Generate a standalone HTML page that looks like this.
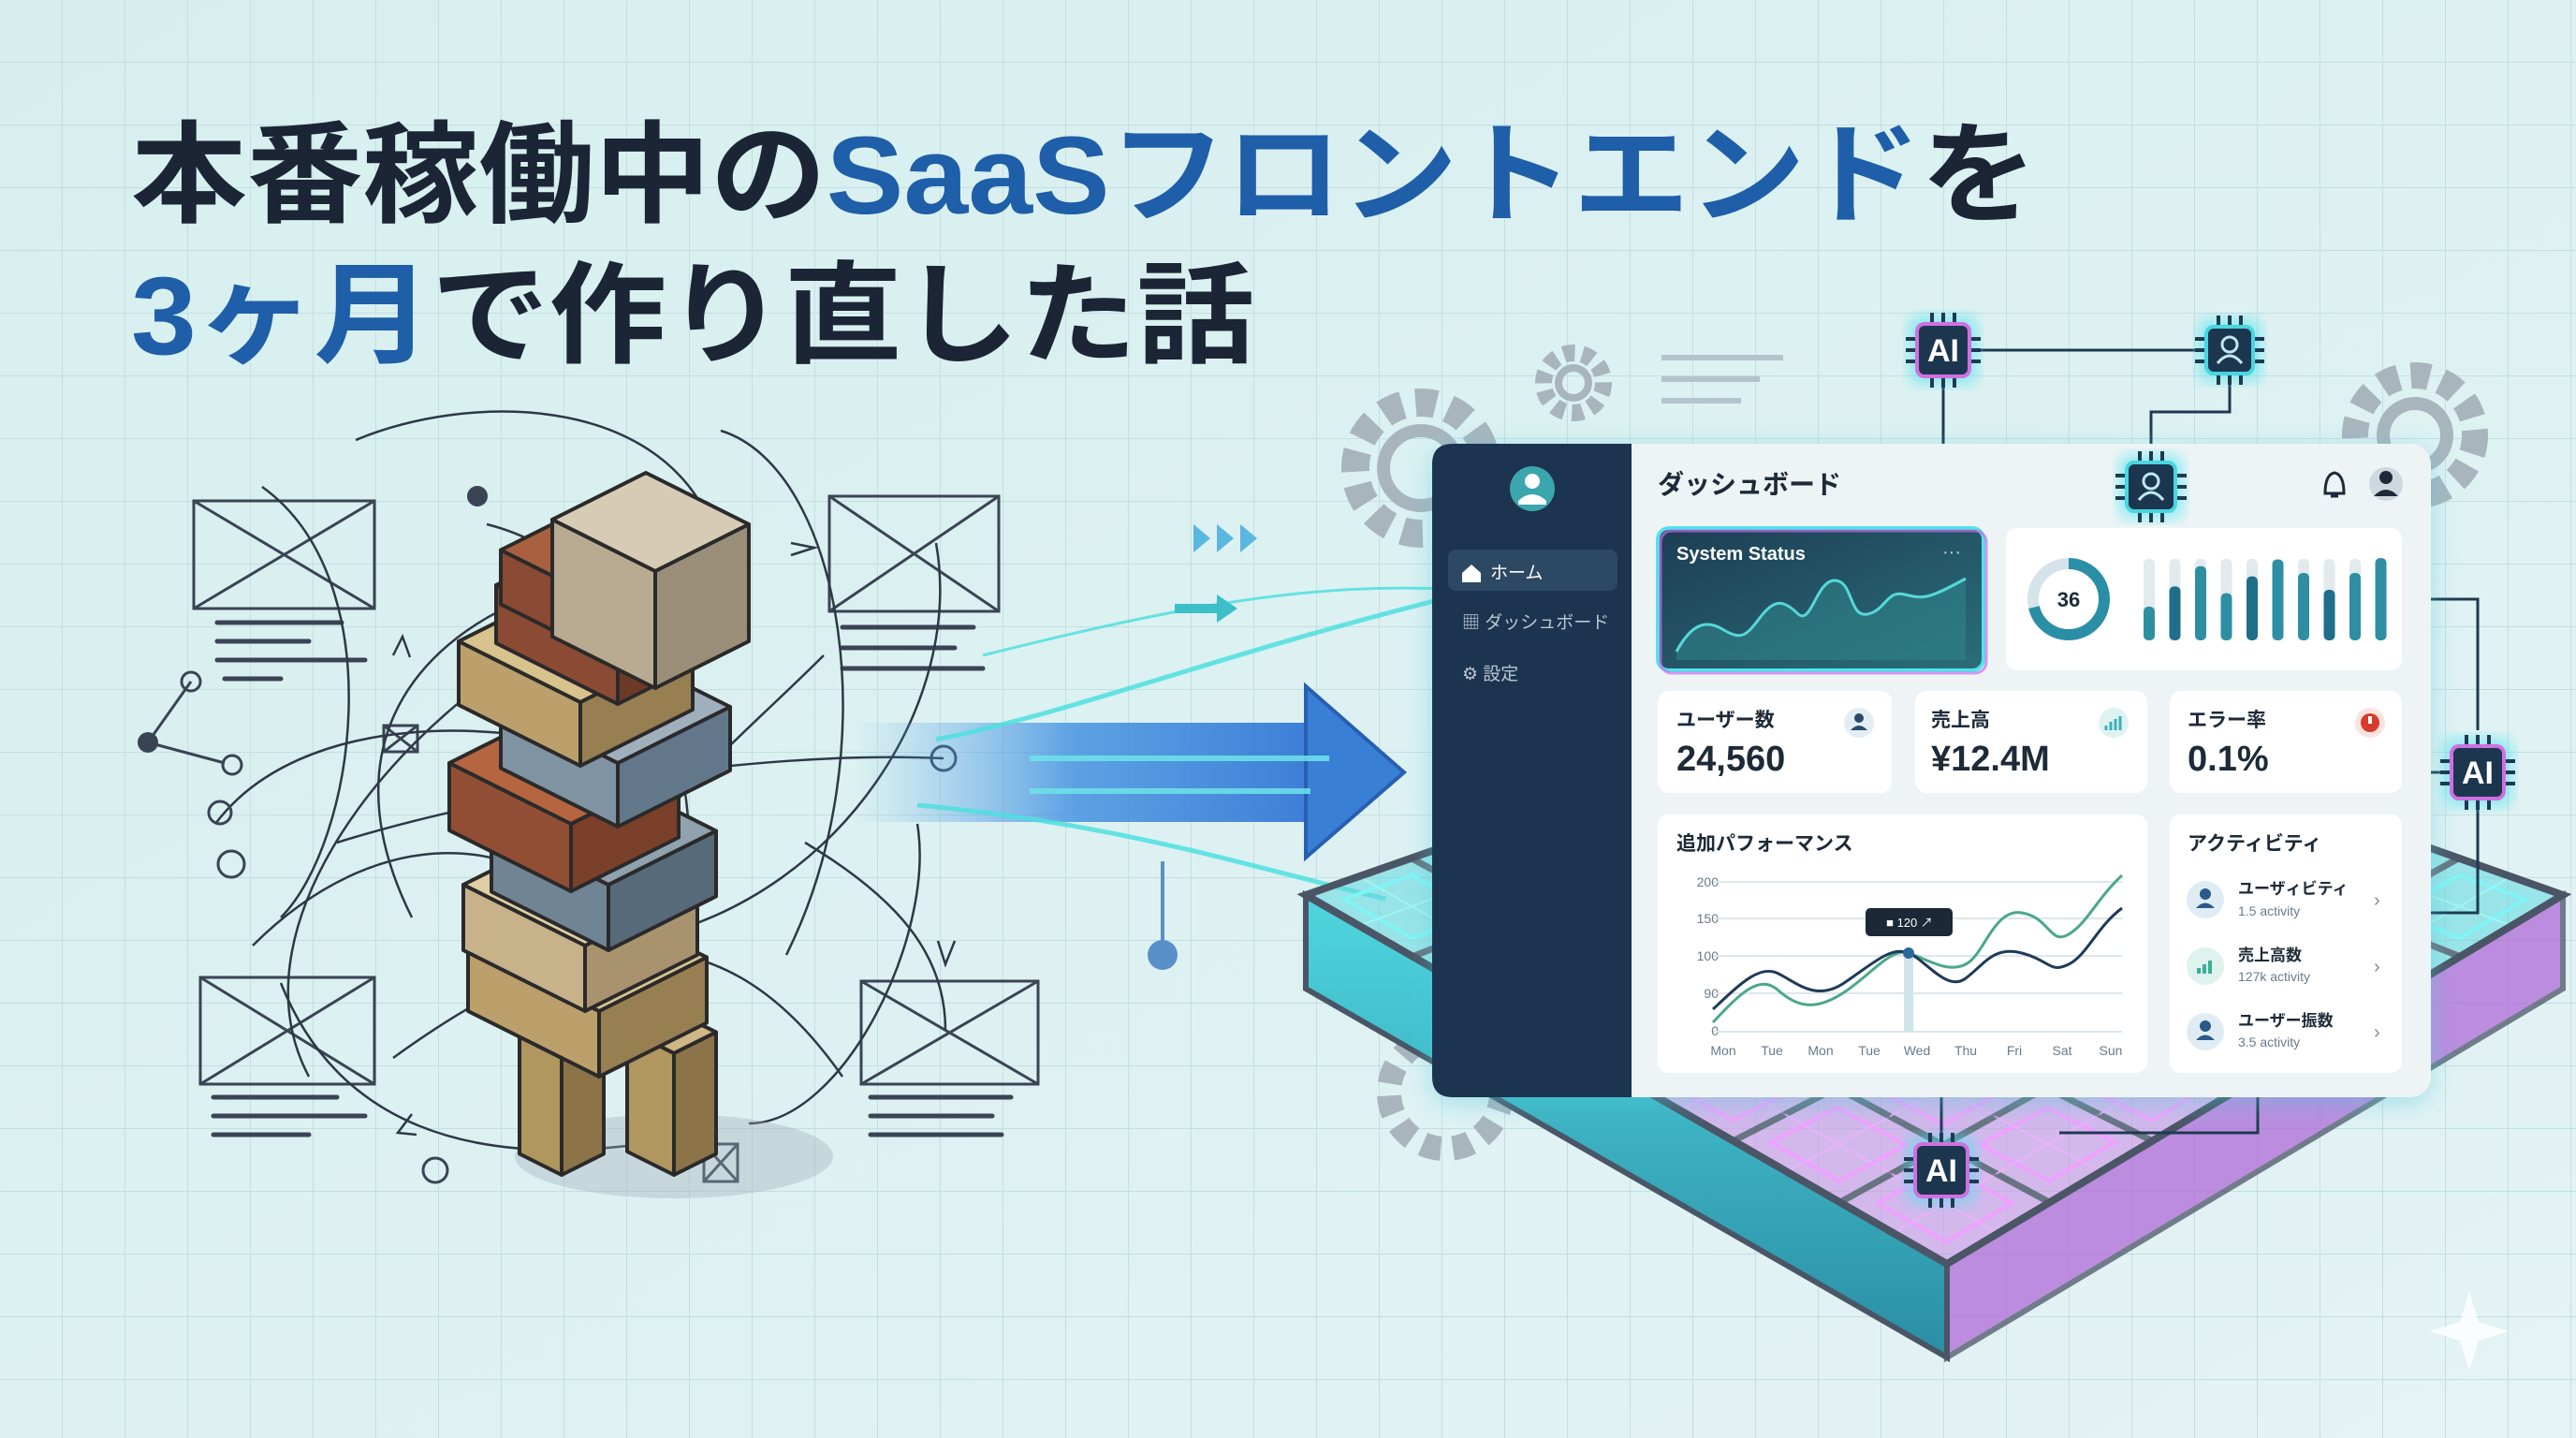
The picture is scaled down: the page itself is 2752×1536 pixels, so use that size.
<!DOCTYPE html>
<html><head><meta charset="utf-8"><style>
html,body{margin:0;padding:0;width:2752px;height:1536px;overflow:hidden;background:#def3f2}
svg{display:block}
text{font-family:"Liberation Sans","Noto Sans CJK JP",sans-serif}
</style></head><body>
<svg id="s" width="2752" height="1536" viewBox="0 0 2752 1536" xmlns="http://www.w3.org/2000/svg">
<defs>
<pattern id="grid" width="67" height="67" patternUnits="userSpaceOnUse"><path d="M67 0V67M0 67H67" stroke="#c3dfe0" stroke-width="2" fill="none"/></pattern>
<linearGradient id="bg" x1="0" y1="0" x2="1" y2="1"><stop offset="0" stop-color="#d6efee"/><stop offset="1" stop-color="#e4f3f5"/></linearGradient>
<linearGradient id="arrow" x1="0" x2="1"><stop offset="0" stop-color="#5aa8e8" stop-opacity="0"/><stop offset="0.4" stop-color="#3d8de0" stop-opacity="0.8"/><stop offset="1" stop-color="#2f6fd0"/></linearGradient>
<linearGradient id="sys" x1="0" y1="0" x2="1" y2="1"><stop offset="0" stop-color="#1d3d55"/><stop offset="1" stop-color="#2a6e78"/></linearGradient>
<linearGradient id="side" x1="0" y1="0" x2="0" y2="1"><stop offset="0" stop-color="#4fd6df"/><stop offset="1" stop-color="#2a8ea5"/></linearGradient>
<filter id="glow"><feGaussianBlur stdDeviation="8"/></filter>
<filter id="sh"><feDropShadow dx="0" dy="6" stdDeviation="14" flood-color="#4ac8d8" flood-opacity="0.45"/></filter>
</defs>
<rect width="2752" height="1536" fill="url(#bg)"/>
<rect width="2752" height="1536" fill="url(#grid)"/>

<text x="140" y="228" font-size="118" font-weight="bold" fill="#1b2535" textLength="2036" lengthAdjust="spacingAndGlyphs">本番稼働中の<tspan fill="#1f5ea8">SaaSフロントエンド</tspan>を</text>
<text x="140" y="378" font-size="118" font-weight="bold" fill="#1b2535" textLength="1200" lengthAdjust="spacingAndGlyphs"><tspan fill="#1f5ea8">3ヶ月</tspan>で作り直した話</text>

<g fill="none" stroke="#a9b5bd" stroke-width="14">
<circle cx="1518" cy="500" r="70" stroke-dasharray="22 14" stroke-width="30"/><circle cx="1518" cy="500" r="40"/>
<circle cx="1681" cy="409" r="32" stroke-dasharray="12 8" stroke-width="18"/><circle cx="1681" cy="409" r="16" stroke-width="8"/>
<circle cx="2580" cy="465" r="64" stroke-dasharray="20 13" stroke-width="28"/><circle cx="2580" cy="465" r="34"/>
<circle cx="1544" cy="1167" r="60" stroke-dasharray="20 13" stroke-width="26"/>
</g>
<g stroke="#b4c4cc" stroke-width="6"><line x1="1775" y1="382" x2="1905" y2="382"/><line x1="1775" y1="405" x2="1880" y2="405"/><line x1="1775" y1="428" x2="1860" y2="428"/></g>

<g fill="none" stroke="#3a4454" stroke-width="3">
<rect x="207" y="535" width="193" height="115"/><path d="M207 535L400 650M400 535L207 650"/>
<rect x="886" y="530" width="181" height="123"/><path d="M886 530L1067 653M1067 530L886 653"/>
<rect x="214" y="1044" width="186" height="114"/><path d="M214 1044L400 1158M400 1044L214 1158"/>
<rect x="920" y="1048" width="189" height="110"/><path d="M920 1048L1109 1158M1109 1048L920 1158"/>
<rect x="410" y="775" width="36" height="28"/><path d="M410 775L446 803M446 775L410 803"/>
<rect x="752" y="1222" width="36" height="40"/><path d="M752 1222L788 1262M788 1222L752 1262"/>
</g>
<g stroke="#3a4454" stroke-width="5" stroke-linecap="round">
<path d="M232 665H365M232 685H330M232 705H390M240 725H300"/>
<path d="M900 670H1040M900 692H1020M900 714H1050"/>
<path d="M228 1172H360M228 1192H390M228 1212H330"/>
<path d="M930 1172H1080M930 1192H1060M930 1212H1070"/>
</g>

<g id="scr" fill="none" stroke="#2e3846" stroke-width="2.5"></g>
<g fill="#3a4454"><circle cx="510" cy="530" r="11"/><circle cx="158" cy="793" r="11"/></g>
<g fill="none" stroke="#3a4454" stroke-width="3"><circle cx="204" cy="728" r="10"/><circle cx="248" cy="817" r="10"/><circle cx="235" cy="868" r="12"/><circle cx="247" cy="923" r="14"/><circle cx="1008" cy="810" r="13"/><circle cx="465" cy="1250" r="13"/>
<path d="M158 793L204 728M158 793L240 815"/></g>

<path d="M913 772H1395V733L1500 825L1395 916V878H913Z" fill="url(#arrow)"/>
<path d="M1395 733L1500 825L1395 916Z" fill="#3a7fd6" stroke="#285fb0" stroke-width="4"/>
<g stroke="#4fe0e0" stroke-width="5" fill="none" opacity="0.85">
<path d="M1000 790C1150 760 1300 700 1540 640"/><path d="M980 860C1200 880 1350 930 1480 960"/><path d="M1050 700C1250 650 1400 620 1560 630" stroke-width="3"/>
<path d="M1100 810H1420M1100 845H1400" stroke="#6fe3ea" stroke-width="6"/>
</g>
<g fill="#5ab7e0"><path d="M1275 560l18 15-18 15zM1300 560l18 15-18 15zM1325 560l18 15-18 15z"/><path d="M1300 635l22 15-22 15z" fill="#3bbfc8"/><rect x="1255" y="645" width="45" height="10" fill="#3bbfc8"/></g>
<path d="M1242 920V1010" stroke="#5a90c8" stroke-width="4"/><circle cx="1242" cy="1020" r="16" fill="#5a90c8"/>

<g id="tower"></g>
<g id="floor"></g>

<g stroke="#1e3a52" stroke-width="3" fill="none">
<path d="M2076 374H2382"/><path d="M2076 374V528"/><path d="M2382 374V440H2298V490"/><path d="M2298 553V590"/>
<path d="M2542 640H2647V780"/><path d="M2647 825V975H2565"/><path d="M2562 825H2647"/>
<path d="M2074 1160V1210"/><path d="M2412 1150V1210H2200"/>
</g>
<g fill="#4fd6df" stroke="#1e3a52" stroke-width="3"><circle cx="2076" cy="528" r="8"/><circle cx="2298" cy="590" r="8"/><circle cx="2542" cy="640" r="8"/><circle cx="2565" cy="975" r="8"/><circle cx="2562" cy="825" r="8"/><circle cx="2074" cy="1160" r="8"/><circle cx="2412" cy="1150" r="8"/></g>

<g filter="url(#sh)">
<rect x="1530" y="474" width="1067" height="698" rx="22" fill="#eef4f6"/>
</g>
<path d="M1552 474H1743V1172H1552Q1530 1172 1530 1150V496Q1530 474 1552 474Z" fill="#1c3450"/>
<circle cx="1637" cy="522" r="24" fill="#3aa6ad"/><circle cx="1637" cy="514" r="8" fill="#fff"/><path d="M1622 535q15-14 30 0v4h-30z" fill="#fff"/>
<rect x="1547" y="587" width="181" height="44" rx="8" fill="#2c4863"/>
<path d="M1562 612l10-9 10 9v10h-20z" fill="#fff"/>
<text x="1592" y="618" font-size="19" fill="#fff">ホーム</text>
<text x="1562" y="671" font-size="19" fill="#b9c6d2">▦ ダッシュボード</text>
<text x="1562" y="726" font-size="19" fill="#b9c6d2">⚙ 設定</text>
<text x="1771" y="527" font-size="28" font-weight="bold" fill="#1e2a38">ダッシュボード</text>
<path d="M2484 527q0-20 10-22q10 2 10 22zM2490 530h8" stroke="#1e2a38" stroke-width="3" fill="none"/>
<circle cx="2549" cy="517" r="18" fill="#cfd8de"/><circle cx="2549" cy="510" r="7" fill="#1e2a38"/><path d="M2536 530q13-14 26 0z" fill="#1e2a38"/>

<rect x="1771" y="564" width="348" height="152" rx="12" fill="url(#sys)" stroke="#53e3ea" stroke-width="4"/>
<rect x="1771" y="564" width="348" height="152" rx="12" fill="none" stroke="#c86ee8" stroke-width="3" opacity="0.7" transform="translate(3 3)"/>
<text x="1791" y="598" font-size="20" font-weight="bold" fill="#fff">System Status</text>
<text x="2075" y="596" font-size="20" fill="#c0d0d8">···</text>
<path d="M1791 696C1805 670 1820 660 1840 672S1865 680 1880 660S1905 640 1920 655S1940 620 1960 620S1975 660 1995 656S2015 630 2035 635S2060 640 2100 618V705H1791Z" fill="#2f8a8e" opacity="0.5"/>
<path d="M1791 696C1805 670 1820 660 1840 672S1865 680 1880 660S1905 640 1920 655S1940 620 1960 620S1975 660 1995 656S2015 630 2035 635S2060 640 2100 618" stroke="#56d8d8" stroke-width="3" fill="none"/>

<rect x="2143" y="564" width="423" height="152" rx="12" fill="#fff"/>
<circle cx="2210" cy="640" r="38" fill="none" stroke="#d5e3ea" stroke-width="12"/>
<circle cx="2210" cy="640" r="38" fill="none" stroke="#2a8fa6" stroke-width="12" stroke-dasharray="170 239" transform="rotate(-90 2210 640)"/>
<text x="2210" y="648" font-size="22" font-weight="bold" text-anchor="middle" fill="#1e2a38">36</text>
<g id="bars"></g>

<g font-weight="bold" fill="#1e2a38">
<rect x="1771" y="738" width="250" height="109" rx="12" fill="#fff"/>
<rect x="2046" y="738" width="248" height="109" rx="12" fill="#fff"/>
<rect x="2318" y="738" width="248" height="109" rx="12" fill="#fff"/>
<text x="1791" y="776" font-size="21">ユーザー数</text><text x="1791" y="823" font-size="38">24,560</text>
<text x="2063" y="776" font-size="21">売上高</text><text x="2063" y="823" font-size="38">¥12.4M</text>
<text x="2337" y="776" font-size="21">エラー率</text><text x="2337" y="823" font-size="38">0.1%</text>
</g>
<circle cx="1986" cy="772" r="16" fill="#e3eef2"/><circle cx="1986" cy="767" r="5" fill="#2a4a6a"/><path d="M1977 780q9-10 18 0z" fill="#2a4a6a"/>
<circle cx="2258" cy="772" r="16" fill="#dff2f2"/><path d="M2250 780v-5M2255 780v-9M2260 780v-12M2265 780v-15" stroke="#3bb0b8" stroke-width="3"/>
<circle cx="2532" cy="772" r="16" fill="#fde3df"/><circle cx="2532" cy="772" r="10" fill="#d83a2e"/><rect x="2530" y="765" width="4" height="8" fill="#fff"/>

<rect x="1771" y="870" width="523" height="276" rx="12" fill="#fff"/>
<text x="1791" y="908" font-size="21" font-weight="bold" fill="#1e2a38">追加パフォーマンス</text>
<g font-size="14" fill="#6a7a88">
<text x="1836" y="947" text-anchor="end">200</text><text x="1836" y="986" text-anchor="end">150</text><text x="1836" y="1026" text-anchor="end">100</text><text x="1836" y="1066" text-anchor="end">90</text><text x="1836" y="1106" text-anchor="end">0</text>
<text x="1841" y="1127" text-anchor="middle">Mon</text><text x="1893" y="1127" text-anchor="middle">Tue</text><text x="1945" y="1127" text-anchor="middle">Mon</text><text x="1997" y="1127" text-anchor="middle">Tue</text><text x="2048" y="1127" text-anchor="middle">Wed</text><text x="2100" y="1127" text-anchor="middle">Thu</text><text x="2152" y="1127" text-anchor="middle">Fri</text><text x="2203" y="1127" text-anchor="middle">Sat</text><text x="2255" y="1127" text-anchor="middle">Sun</text>
</g>
<g stroke="#dde6ea" stroke-width="2"><path d="M1830 942H2267M1830 981H2267M1830 1021H2267M1830 1061H2267M1830 1102H2267"/></g>
<rect x="2034" y="1018" width="10" height="84" fill="#cfe3ea"/>
<path d="M1830 1092C1860 1060 1880 1040 1900 1058S1940 1080 1970 1060S2020 1012 2039 1018S2080 1040 2100 1030S2130 970 2160 975S2190 1010 2210 998S2240 960 2267 935" stroke="#4aa88a" stroke-width="3" fill="none"/>
<path d="M1830 1078C1860 1050 1880 1030 1900 1040S1940 1070 1970 1050S2020 1010 2039 1018S2080 1060 2100 1045S2130 1010 2160 1018S2190 1040 2210 1030S2240 990 2267 970" stroke="#1f3a5a" stroke-width="3" fill="none"/>
<circle cx="2039" cy="1018" r="6" fill="#2a6a9a"/>
<rect x="1993" y="970" width="93" height="30" rx="5" fill="#1a2838"/><text x="2040" y="990" font-size="13" fill="#fff" text-anchor="middle">■ 120 ↗</text>

<rect x="2318" y="870" width="248" height="276" rx="12" fill="#fff"/>
<text x="2337" y="908" font-size="21" font-weight="bold" fill="#1e2a38">アクティビティ</text>
<g>
<circle cx="2356" cy="961" r="20" fill="#e0ecf3"/><circle cx="2356" cy="955" r="6" fill="#2a5a8a"/><path d="M2346 970q10-11 20 0z" fill="#2a5a8a"/>
<circle cx="2356" cy="1032" r="20" fill="#def2ee"/><path d="M2349 1040v-6M2355 1040v-10M2361 1040v-14" stroke="#3ab09a" stroke-width="4"/>
<circle cx="2356" cy="1102" r="20" fill="#e0ecf3"/><circle cx="2356" cy="1096" r="6" fill="#2a5a8a"/><path d="M2346 1111q10-11 20 0z" fill="#2a5a8a"/>
<g font-size="17" font-weight="bold" fill="#1e2a38"><text x="2391" y="955">ユーザィビティ</text><text x="2391" y="1026">売上高数</text><text x="2391" y="1096">ユーザー振数</text></g>
<g font-size="14" fill="#6a7a88"><text x="2391" y="978">1.5 activity</text><text x="2391" y="1048">127k activity</text><text x="2391" y="1118">3.5 activity</text></g>
<g font-size="20" fill="#7a8a98"><text x="2536" y="968">›</text><text x="2536" y="1039">›</text><text x="2536" y="1109">›</text></g>
</g>

<g id="chips"></g>
<path d="M2638 1380l10 32 32 10-32 10-10 32-10-32-32-10 32-10z" fill="#fff" opacity="0.8"/>
</svg>
<script>
var NS="http://www.w3.org/2000/svg";
function el(p,t,a){var e=document.createElementNS(NS,t);for(var k in a)e.setAttribute(k,a[k]);p.appendChild(e);return e;}
function pts(a){return a.map(function(p){return p[0].toFixed(1)+","+p[1].toFixed(1)}).join(" ");}
var scr=document.getElementById("scr");
var S=["M380 470C500 420 700 420 760 560","M280 520C420 620 380 900 300 980","M770 460C900 500 950 800 840 1020","M330 1150C250 1000 400 800 560 700","M1000 580C1030 750 900 950 700 1000","M360 900C520 850 800 800 1008 810","M300 1050C360 1200 500 1250 700 1220","M860 900C960 960 1010 1020 1010 1100","M420 1130C600 1000 760 950 900 1150","M520 560C680 600 780 800 720 1100","M560 640C420 700 360 820 440 980","M880 700C760 820 640 900 560 1150","M800 1200C900 1200 1000 1000 980 880","M230 880C320 760 540 760 700 820","M270 1010C400 880 560 880 650 1000"];
S.forEach(function(d){el(scr,"path",{d:d});});
el(scr,"path",{d:"M845 580l25 5-25 8M420 700l10-20 8 22M1002 1005l8 25 10-25M440 1190l-15 20 20 2"});
var tw=document.getElementById("tower");
el(tw,"ellipse",{cx:"720",cy:"1235",rx:"170",ry:"45",fill:"#9aaab4",opacity:"0.35"});
function box(cx,fy,a,b,h,c){
 var L=[cx-a,fy-a*0.5],F=[cx,fy],R=[cx+b,fy-b*0.5],B=[cx+b-a,fy-a*0.5-b*0.5];
 var g=el(tw,"g",{stroke:"#2b2a2a","stroke-width":"4","stroke-linejoin":"round"});
 el(g,"polygon",{points:pts([L,F,[F[0],F[1]+h],[L[0],L[1]+h]]),fill:c[1]});
 el(g,"polygon",{points:pts([F,R,[R[0],R[1]+h],[F[0],F[1]+h]]),fill:c[2]});
 el(g,"polygon",{points:pts([L,F,R,B]),fill:c[0]});
}
var C=[["#d6ccb6","#b8ab92","#9a8e78"],["#a8603f","#8a4a33","#6e3a28"],["#d8c28e","#bba06c","#977f52"],["#9fb0bc","#7f93a2","#63778a"],["#b5653f","#924e34","#7a402a"],["#8fa2ae","#6f8494","#566a7a"],["#e0cfa6","#c7b28a","#a8936e"],["#cfb685","#b0965f","#8c7448"]];
box(600,1130,45,45,125,C[7]);box(720,1125,50,45,130,C[7]);
var L=[[640,1080,140,115,70,2],[625,1010,130,120,70,6],[650,945,125,115,70,5],[610,880,130,115,72,4],[660,815,125,120,68,3],[620,750,130,120,68,2],[660,690,130,120,62,1],[650,645,115,105,58,1],[700,610,110,100,125,0]];
L.forEach(function(q){box(q[0],q[1],q[2],q[3],q[4],C[q[5]]);});
var fl=document.getElementById("floor");
var T=[2071,720],Rr=[2738,956],Bb=[2080,1350],Ll=[1395,956],th=100;
function lerp(a,b,t){return [a[0]+(b[0]-a[0])*t,a[1]+(b[1]-a[1])*t];}
function P(u,v){var a=lerp(Ll,T,u),b=lerp(Bb,Rr,u);return lerp(a,b,v);}
el(fl,"polygon",{points:pts([Ll,Bb,[Bb[0],Bb[1]+th],[Ll[0],Ll[1]+th]]),fill:"url(#side)",stroke:"#4a5566","stroke-width":"6"});
el(fl,"polygon",{points:pts([Bb,Rr,[Rr[0],Rr[1]+th],[Bb[0],Bb[1]+th]]),fill:"#b06ad8",opacity:"0.75",stroke:"#4a5566","stroke-width":"6"});
var N=6;
for(var i=0;i<N;i++)for(var j=0;j<N;j++){
 var u0=i/N,u1=(i+1)/N,v0=j/N,v1=(j+1)/N;
 var mag=(j>=3&&i<3);
 var g=el(fl,"g",{});
 el(g,"polygon",{points:pts([P(u0,v0),P(u1,v0),P(u1,v1),P(u0,v1)]),fill:mag?"#c98ae6":"#5fd9df",opacity:"0.55",stroke:"#4a5566","stroke-width":"7"});
 var a=P(u0+0.03,v0+0.03),b=P(u1-0.03,v0+0.03),c=P(u1-0.03,v1-0.03),d=P(u0+0.03,v1-0.03);
 el(g,"polygon",{points:pts([a,b,c,d]),fill:"none",stroke:mag?"#f0a0ff":"#7ff5f7","stroke-width":"4"});
 el(g,"path",{d:"M"+pts([P((u0+u1)/2,v0),P((u0+u1)/2,v1)])+"M"+pts([P(u0,(v0+v1)/2),P(u1,(v0+v1)/2)]),stroke:mag?"#f0b0ff":"#a0f8fa","stroke-width":"2",fill:"none",opacity:"0.8"});
}
el(fl,"polygon",{points:pts([Ll,T,Rr,Bb]),fill:"none",stroke:"#4a5566","stroke-width":"8"});
var bars=document.getElementById("bars");
var hs=[50,80,110,70,95,120,100,75,100,122];
for(var k=0;k<10;k++){var x=2290+k*27.5;el(bars,"rect",{x:x,y:597,width:12,height:87,rx:5,fill:"#e2eaee"});el(bars,"rect",{x:x,y:684-hs[k]*0.72,width:12,height:hs[k]*0.72,rx:5,fill:k%3==1?"#1f6f8a":"#2e8fa3"});}
var ch=document.getElementById("chips");
function chip(cx,cy,s,lab){
 var g=el(ch,"g",{});
 el(g,"rect",{x:cx-s/2-8,y:cy-s/2-8,width:s+16,height:s+16,rx:10,fill:"#49e3ee",opacity:"0.6",filter:"url(#glow)"});
 for(var q=-1;q<=1;q++){el(g,"path",{d:"M"+(cx+q*12)+" "+(cy-s/2-12)+"v12M"+(cx+q*12)+" "+(cy+s/2)+"v12M"+(cx-s/2-12)+" "+(cy+q*12)+"h12M"+(cx+s/2)+" "+(cy+q*12)+"h12",stroke:"#1e3a52","stroke-width":"4"});}
 el(g,"rect",{x:cx-s/2,y:cy-s/2,width:s,height:s,rx:8,fill:"#1d3650",stroke:lab?"#d070e0":"#49d6e0","stroke-width":"4"});
 if(lab){var t=el(g,"text",{x:cx,y:cy+12,"font-size":"34","text-anchor":"middle",fill:"#fff","font-weight":"bold"});t.textContent="AI";}
 else{el(g,"circle",{cx:cx,cy:cy-6,r:8,fill:"none",stroke:"#bfe8f0","stroke-width":"3"});el(g,"path",{d:"M"+(cx-13)+" "+(cy+14)+"q13-16 26 0",fill:"none",stroke:"#bfe8f0","stroke-width":"3"});}
}
chip(2076,374,56,1);chip(2382,374,50,0);chip(2298,520,52,0);chip(2647,825,56,1);chip(2074,1250,56,1);
</script>
</body></html>
